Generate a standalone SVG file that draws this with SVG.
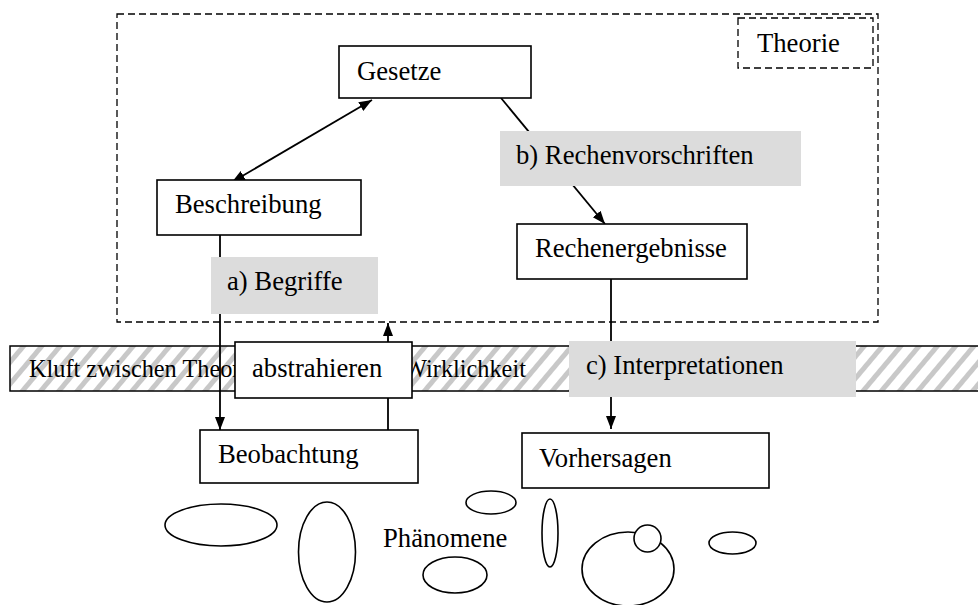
<svg xmlns="http://www.w3.org/2000/svg" width="978" height="605" viewBox="0 0 978 605">
<style>
text{font-family:"Liberation Serif","Times New Roman",serif;font-size:26.67px;fill:#000}
.box{fill:#fff;stroke:#000;stroke-width:1.6}
.lbl{fill:#dcdcdc;stroke:none}
.dash{fill:none;stroke:#000;stroke-width:1.3;stroke-dasharray:7 4}
.con{fill:none;stroke:#000;stroke-width:1.8}
.ph{fill:#fff;stroke:#000;stroke-width:1.6}
</style>
<defs>
<pattern id="hatch" patternUnits="userSpaceOnUse" width="14" height="14" patternTransform="rotate(40)">
<rect width="14" height="14" fill="#fff"/>
<rect x="0" y="0" width="5" height="14" fill="#c8c8c8"/>
</pattern>
<marker id="ah" markerUnits="userSpaceOnUse" markerWidth="15" markerHeight="11" refX="13" refY="5" orient="auto-start-reverse">
<path d="M0,0 L13,5 L0,10 z" fill="#000"/>
</marker>
</defs>

<g id="theorie-frame">
<rect class="dash" x="117" y="14" width="761" height="308"/>
</g>
<g id="theorie">
<rect class="dash" x="738" y="18" width="135" height="50"/>
<text x="757" y="52">Theorie</text>
</g>

<g id="kluft">
<rect x="10" y="346" width="980" height="45" fill="url(#hatch)" stroke="#000" stroke-width="1.5"/>
<text x="29" y="377" style="font-size:24.3px">Kluft zwischen Theorie <tspan x="362">und Wirklichkeit</tspan></text>
</g>

<g id="connectors">
<line class="con" x1="372" y1="100" x2="232" y2="182" marker-start="url(#ah)" marker-end="url(#ah)"/>
<line class="con" x1="501" y1="98" x2="605" y2="224" marker-end="url(#ah)"/>
<line class="con" x1="220" y1="235" x2="220" y2="430" marker-end="url(#ah)"/>
<line class="con" x1="388" y1="430" x2="388" y2="323" marker-end="url(#ah)"/>
<line class="con" x1="611" y1="279" x2="611" y2="429" marker-end="url(#ah)"/>
</g>

<g id="label-a">
<rect class="lbl" x="211" y="257" width="167" height="57"/>
<text x="227" y="290">a) Begriffe</text>
</g>
<g id="label-b">
<rect class="lbl" x="500" y="131" width="301" height="55"/>
<text x="516" y="164">b) Rechenvorschriften</text>
</g>
<g id="label-c">
<rect class="lbl" x="569" y="341" width="287" height="56"/>
<text x="586" y="374">c) Interpretationen</text>
</g>
<g id="abstrahieren">
<rect class="box" x="235" y="342" width="177" height="56"/>
<text x="252" y="377">abstrahieren</text>
</g>

<g id="gesetze">
<rect class="box" x="339" y="46" width="192" height="52"/>
<text x="357" y="80">Gesetze</text>
</g>
<g id="beschreibung">
<rect class="box" x="157" y="180" width="204" height="55"/>
<text x="175" y="213">Beschreibung</text>
</g>
<g id="rechenergebnisse">
<rect class="box" x="517" y="224" width="230" height="55"/>
<text x="535" y="257">Rechenergebnisse</text>
</g>
<g id="beobachtung">
<rect class="box" x="200" y="430" width="218" height="53"/>
<text x="218" y="463">Beobachtung</text>
</g>
<g id="vorhersagen">
<rect class="box" x="522" y="433" width="247" height="55"/>
<text x="539" y="467">Vorhersagen</text>
</g>

<g id="phaenomene">
<ellipse class="ph" cx="221" cy="525" rx="56" ry="21"/>
<ellipse class="ph" cx="327" cy="552" rx="28.5" ry="50"/>
<ellipse class="ph" cx="491" cy="502.5" rx="25" ry="11.5"/>
<ellipse class="ph" cx="455" cy="575" rx="32" ry="18"/>
<ellipse class="ph" cx="550" cy="533" rx="8" ry="34"/>
<ellipse class="ph" cx="628" cy="569" rx="46" ry="37"/>
<circle class="ph" cx="647.5" cy="538.5" r="13.5"/>
<ellipse class="ph" cx="732.5" cy="543" rx="23.5" ry="11"/>
<text x="383" y="547">Phänomene</text>
</g>
</svg>
